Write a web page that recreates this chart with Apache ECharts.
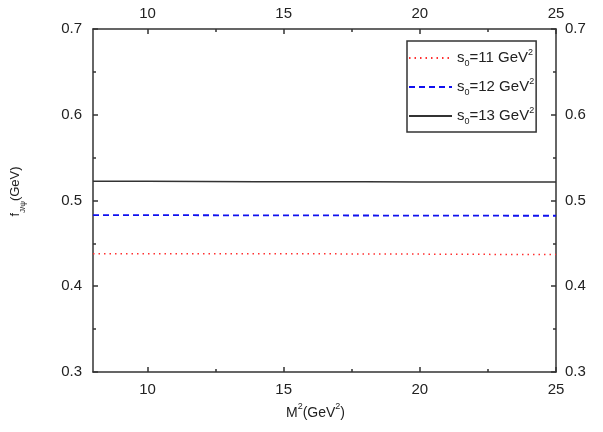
<!DOCTYPE html>
<html>
<head>
<meta charset="utf-8">
<script src="https://cdn.jsdelivr.net/npm/echarts@6/dist/echarts.min.js"></script>
<style>
  html, body { margin: 0; padding: 0; background: #fff; }
  #main { width: 603px; height: 432px; }
</style>
</head>
<body>
<div id="main"></div>
<script>
var chart = echarts.init(document.getElementById('main'));

// M^2 (GeV^2) sample points and f_J/psi (GeV)
var m2 = [8, 10, 12, 14, 16, 18, 20, 22, 24, 25];
var s11 = [0.438, 0.438, 0.438, 0.438, 0.438, 0.4375, 0.4375, 0.4372, 0.4371, 0.437];
var s12 = [0.483, 0.483, 0.4828, 0.4827, 0.4826, 0.4825, 0.4824, 0.4823, 0.4822, 0.4822];
var s13 = [0.5225, 0.5224, 0.5222, 0.522, 0.5219, 0.5218, 0.5217, 0.5216, 0.5215, 0.5215];
var seriesNames = ['s0=11', 's0=12', 's0=13'];
var xMajor = [10, 15, 20, 25];
var xMinor = [12.5, 17.5, 22.5];

var font = 'Liberation Sans, Arial, sans-serif';
var axisColor = '#333';
var labelSize = 15;

function pairs(ys) {
    return m2.map(function (x, i) { return [x, ys[i]]; });
}

function xAxisDef(pos, ticks, withLabel, len, showLine) {
    return {
        type: 'value',
        position: pos,
        min: 8,
        max: 25,
        axisLine: {show: showLine, onZero: false, lineStyle: {color: axisColor, width: 1.5}},
        axisTick: {show: true, inside: true, length: len, customValues: ticks,
                   lineStyle: {color: axisColor, width: 1.5}},
        axisLabel: {show: withLabel, customValues: ticks, color: '#222', fontSize: labelSize,
                    fontFamily: font, margin: pos === 'top' ? 8 : 10},
        splitLine: {show: false}
    };
}

function yAxisDef(pos) {
    return {
        type: 'value',
        position: pos,
        min: 0.3,
        max: 0.7,
        interval: 0.1,
        axisLine: {show: true, lineStyle: {color: axisColor, width: 1.5}},
        axisTick: {show: true, inside: true, length: 5, lineStyle: {color: axisColor, width: 1.5}},
        minorTick: {show: true, splitNumber: 2, length: 3, lineStyle: {color: axisColor, width: 1.5}},
        axisLabel: {color: '#222', fontSize: labelSize, fontFamily: font, margin: pos === 'left' ? 11 : 9,
                    formatter: function (v) { return v.toFixed(1); }},
        splitLine: {show: false}
    };
}

var bottomMain = xAxisDef('bottom', xMajor, true, 5, true);
bottomMain.name = '{t|M}{sup|2}{t|(GeV}{sup|2}{t|)}';
bottomMain.nameLocation = 'middle';
bottomMain.nameGap = 30;
bottomMain.nameTextStyle = {
    padding: [0, 18, 0, 0],
    rich: {
        t: {fontSize: 14, fontFamily: font, color: '#222', lineHeight: 18, verticalAlign: 'bottom'},
        sup: {fontSize: 9, fontFamily: font, color: '#222', lineHeight: 18, verticalAlign: 'top'}
    }
};

var leftAxis = yAxisDef('left');
leftAxis.name = '{t|f}{sub|J/ψ}{t|(GeV)}';
leftAxis.nameLocation = 'middle';
leftAxis.nameRotate = 90;
leftAxis.nameGap = 66;
leftAxis.nameTextStyle = {
    padding: [0, 0, 0, 18],
    rich: {
        t: {fontSize: 13, fontFamily: font, color: '#222', lineHeight: 18, verticalAlign: 'top'},
        sub: {fontSize: 8, fontFamily: font, color: '#222', lineHeight: 18, verticalAlign: 'bottom'}
    }
};

var option = {
    backgroundColor: '#fff',
    animation: false,
    grid: {left: 93, right: 47, top: 29, bottom: 60, containLabel: false, outerBoundsMode: 'none'},
    legend: {
        orient: 'vertical',
        left: 407,
        top: 41,
        padding: [7, 2, 6, 1],
        itemGap: 9,
        itemWidth: 43,
        itemHeight: 20,
        borderColor: '#333',
        borderWidth: 1.5,
        data: seriesNames,
        itemStyle: {opacity: 0},
        formatter: function (name) {
            return '{t|s}{sub|0}{t|' + name.slice(2) + ' GeV}{sup|2}';
        },
        textStyle: {
            rich: {
                t: {fontSize: 15, fontFamily: font, color: '#222', lineHeight: 20, verticalAlign: 'middle'},
                sub: {fontSize: 9, fontFamily: font, color: '#222', lineHeight: 20, verticalAlign: 'bottom'},
                sup: {fontSize: 9, fontFamily: font, color: '#222', lineHeight: 20, verticalAlign: 'top'}
            }
        }
    },
    xAxis: [
        bottomMain,
        xAxisDef('bottom', xMinor, false, 3, false),
        xAxisDef('top', xMajor, true, 5, true),
        xAxisDef('top', xMinor, false, 3, false)
    ],
    yAxis: [leftAxis, yAxisDef('right')],
    series: [
        {
            name: seriesNames[0], type: 'line', showSymbol: false, symbol: 'none',
            data: pairs(s11), color: '#ff3030',
            lineStyle: {type: [1.5, 4], width: 1.5, color: '#ff3030'}
        },
        {
            name: seriesNames[1], type: 'line', showSymbol: false, symbol: 'none',
            data: pairs(s12), color: '#1010ee',
            lineStyle: {type: [6, 4], width: 1.8, color: '#1010ee'}
        },
        {
            name: seriesNames[2], type: 'line', showSymbol: false, symbol: 'none',
            data: pairs(s13), color: '#333',
            lineStyle: {type: 'solid', width: 1.5, color: '#333'}
        }
    ]
};

chart.setOption(option);
</script>
</body>
</html>
